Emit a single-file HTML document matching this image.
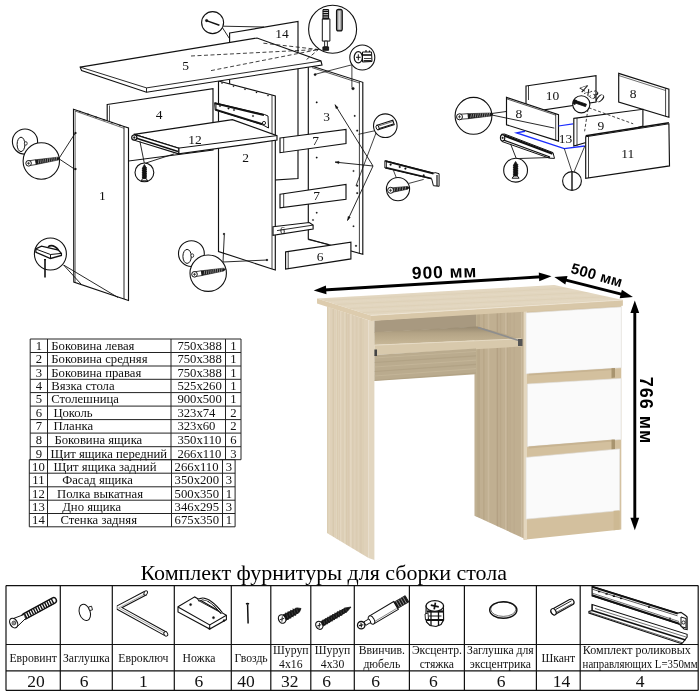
<!DOCTYPE html><html><head><meta charset="utf-8"><style>html,body{margin:0;padding:0;background:#fff;}body{width:700px;height:694px;overflow:hidden;position:relative;}svg{position:absolute;left:0;top:0;will-change:transform;}</style></head><body>
<svg width="700" height="694" viewBox="0 0 700 694">
<polygon points="229.6,33 298,21.5 298,178.5 229.6,183" fill="#fff" stroke="#111" stroke-width="1.15" />
<text x="282" y="38" font-family='"Liberation Serif", serif' font-size="13.5" text-anchor="middle" font-weight="normal" fill="#111" >14</text>
<polygon points="308.3,65 362.8,82.3 362.8,254.3 308.3,239" fill="#fff" stroke="#111" stroke-width="1.15" />
<line x1="359.4" y1="81.5" x2="359.4" y2="253.5" stroke="#111" stroke-width="0.8" />
<line x1="312" y1="67.6" x2="359.4" y2="83" stroke="#111" stroke-width="0.7" />
<text x="326.5" y="121" font-family='"Liberation Serif", serif' font-size="13.5" text-anchor="middle" font-weight="normal" fill="#111" >3</text>
<polygon points="218.5,81 272,95 275.3,96 275.3,270 272,269 218.5,251.5" fill="#fff" stroke="#111" stroke-width="1.15" />
<line x1="272" y1="95" x2="272" y2="269" stroke="#111" stroke-width="0.8" />
<text x="245.5" y="162" font-family='"Liberation Serif", serif' font-size="13.5" text-anchor="middle" font-weight="normal" fill="#111" >2</text>
<polygon points="214.6,102.7 264.5,114.5 268,116 268.5,128 263,125 215.2,110.2" fill="#fff" stroke="#111" stroke-width="1" />
<line x1="215" y1="103.3" x2="264" y2="115.2" stroke="#111" stroke-width="1.8" />
<line x1="215.5" y1="109.5" x2="262.5" y2="124.2" stroke="#111" stroke-width="1.8" />
<line x1="216" y1="104" x2="216" y2="110" stroke="#111" stroke-width="0.9" />
<circle cx="220" cy="106" r="0.8" fill="#111" stroke="#111" stroke-width="0.3"/>
<circle cx="228.5" cy="108.5" r="0.8" fill="#111" stroke="#111" stroke-width="0.3"/>
<circle cx="234" cy="110" r="0.8" fill="#111" stroke="#111" stroke-width="0.3"/>
<circle cx="253" cy="116" r="0.8" fill="#111" stroke="#111" stroke-width="0.3"/>
<circle cx="264" cy="123" r="1.6" fill="#fff" stroke="#111" stroke-width="0.9"/>
<polygon points="107.2,104.5 213,88.75 213,150 128.8,161 107.2,125" fill="#fff" stroke="#111" stroke-width="1.15" />
<line x1="109.5" y1="105.5" x2="109.5" y2="124" stroke="#111" stroke-width="0.7" />
<text x="159" y="119" font-family='"Liberation Serif", serif' font-size="13.5" text-anchor="middle" font-weight="normal" fill="#111" >4</text>
<polygon points="134.1,134.4 232.4,119.6 277,135.6 277,140.1 178.7,153.9 178.7,148.1" fill="#fff" stroke="#111" stroke-width="1.15" />
<line x1="178.7" y1="148.1" x2="277" y2="135.6" stroke="#111" stroke-width="1.0" />
<polygon points="134.1,134.4 178.7,148.1 178.7,153.9 134.1,140.2" fill="#fff" stroke="#111" stroke-width="1.1" />
<line x1="135" y1="137.8" x2="178" y2="151.5" stroke="#111" stroke-width="1.6" />
<circle cx="134.3" cy="137.6" r="2.6" fill="#fff" stroke="#111" stroke-width="1.2"/>
<circle cx="134.3" cy="137.6" r="1.0" fill="#111" stroke="#111" stroke-width="0.3"/>
<text x="195" y="143.5" font-family='"Liberation Serif", serif' font-size="13.5" text-anchor="middle" font-weight="normal" fill="#111" >12</text>
<polygon points="73.5,109.2 124,126.5 128.5,128 128.5,300.5 124,299 73.8,282" fill="#fff" stroke="#111" stroke-width="1.15" />
<line x1="124" y1="126.5" x2="124" y2="299" stroke="#111" stroke-width="0.9" />
<line x1="75" y1="111" x2="124" y2="128.3" stroke="#111" stroke-width="0.6" />
<line x1="75.2" y1="111" x2="75.2" y2="282.3" stroke="#111" stroke-width="0.6" />
<text x="102.3" y="200" font-family='"Liberation Serif", serif' font-size="13.5" text-anchor="middle" font-weight="normal" fill="#111" >1</text>
<polygon points="80.2,67.1 257,38 321,61 322,65 146.5,92.2 81.6,70.6" fill="#fff" stroke="#111" stroke-width="1.15" />
<line x1="146.5" y1="87.9" x2="321" y2="61" stroke="#111" stroke-width="0.9" />
<line x1="146.5" y1="87.9" x2="146.5" y2="92.2" stroke="#111" stroke-width="0.9" />
<line x1="80.2" y1="67.1" x2="146.5" y2="87.9" stroke="#111" stroke-width="0.9" />
<text x="185.6" y="70" font-family='"Liberation Serif", serif' font-size="13.5" text-anchor="middle" font-weight="normal" fill="#111" >5</text>
<line x1="191" y1="56" x2="318.5" y2="49.5" stroke="#111" stroke-width="0.8" stroke-dasharray="4,2.5"/>
<line x1="211" y1="70.6" x2="318.5" y2="49.5" stroke="#111" stroke-width="0.8" stroke-dasharray="4,2.5"/>
<line x1="263.4" y1="43.2" x2="318.5" y2="49.5" stroke="#111" stroke-width="0.8" stroke-dasharray="4,2.5"/>
<line x1="306.6" y1="59.5" x2="318.5" y2="49.5" stroke="#111" stroke-width="0.8" stroke-dasharray="4,2.5"/>
<polygon points="280,138 346,129.4 346,143.6 280,152.7" fill="#fff" stroke="#111" stroke-width="1.15" />
<line x1="283.7" y1="137.5" x2="283.7" y2="152.2" stroke="#111" stroke-width="0.8" />
<text x="315.5" y="145" font-family='"Liberation Serif", serif' font-size="13.5" text-anchor="middle" font-weight="normal" fill="#111" >7</text>
<polygon points="280,194.3 346,184.5 346,199.2 280,207.8" fill="#fff" stroke="#111" stroke-width="1.15" />
<line x1="283.7" y1="193.8" x2="283.7" y2="207.3" stroke="#111" stroke-width="0.8" />
<text x="316.7" y="200" font-family='"Liberation Serif", serif' font-size="13.5" text-anchor="middle" font-weight="normal" fill="#111" >7</text>
<polygon points="273,226.7 309.2,222.5 313.1,225.1 313.1,229.1 273,235.4" fill="#fff" stroke="#111" stroke-width="1.15" />
<line x1="277" y1="230.6" x2="313.1" y2="225.1" stroke="#111" stroke-width="0.9" />
<text x="282.5" y="233.5" font-family='"Liberation Serif", serif' font-size="10" text-anchor="middle" font-weight="normal" fill="#111" >6</text>
<polygon points="285.6,251.9 350.9,242.1 350.9,258.9 285.6,269.1" fill="#fff" stroke="#111" stroke-width="1.15" />
<line x1="288.2" y1="251.5" x2="288.2" y2="268.7" stroke="#111" stroke-width="0.8" />
<text x="320.2" y="260.5" font-family='"Liberation Serif", serif' font-size="13.5" text-anchor="middle" font-weight="normal" fill="#111" >6</text>
<line x1="308.2" y1="239.6" x2="329" y2="244.5" stroke="#111" stroke-width="0.8" />
<line x1="58.8" y1="158.7" x2="75.3" y2="133" stroke="#111" stroke-width="0.9" />
<line x1="58.8" y1="158.7" x2="75.3" y2="169.6" stroke="#111" stroke-width="0.9" />
<circle cx="25" cy="141.6" r="12.6" fill="#fff" stroke="#111" stroke-width="1.1"/>
<ellipse cx="21" cy="144.4" rx="3.9" ry="7.2" fill="none" stroke="#111" stroke-width="1"/>
<ellipse cx="25.8" cy="143.4" rx="1.4" ry="1.8" fill="#fff" stroke="#111" stroke-width="0.8"/>
<circle cx="41.3" cy="161" r="18.2" fill="#fff" stroke="#111" stroke-width="1.1"/>
<polygon points="28.978862811219724,165.6699077978425 36.32886281121972,164.4949077978425 35.571137188780284,159.7550922021575 28.22113718878028,160.9300922021575" fill="#fff" stroke="#111" stroke-width="0.8" /><polygon points="36.32886281121972,164.4949077978425 58.22731768673183,160.0219446787055 59.97492316486875,158.28428099065022 57.77268231326817,157.1780553212945 35.571137188780284,159.7550922021575" fill="#1a1a1a" stroke="#111" stroke-width="0.6" /><line x1="38.42020396785381" y1="163.43143545848974" x2="38.87725761458057" y2="159.95570503683538" stroke="#eee" stroke-width="0.5" /><line x1="40.62520396785381" y1="163.07893545848972" x2="41.08225761458057" y2="159.60320503683536" stroke="#eee" stroke-width="0.5" /><line x1="42.83020396785381" y1="162.72643545848973" x2="43.287257614580575" y2="159.25070503683537" stroke="#eee" stroke-width="0.5" /><line x1="45.03520396785381" y1="162.37393545848974" x2="45.49225761458057" y2="158.89820503683538" stroke="#eee" stroke-width="0.5" /><line x1="47.24020396785381" y1="162.02143545848975" x2="47.69725761458057" y2="158.5457050368354" stroke="#eee" stroke-width="0.5" /><line x1="49.44520396785381" y1="161.66893545848973" x2="49.90225761458057" y2="158.19320503683537" stroke="#eee" stroke-width="0.5" /><line x1="51.650203967853805" y1="161.31643545848974" x2="52.10725761458057" y2="157.84070503683537" stroke="#eee" stroke-width="0.5" /><line x1="53.85520396785381" y1="160.96393545848974" x2="54.312257614580574" y2="157.48820503683538" stroke="#eee" stroke-width="0.5" /><line x1="56.06020396785381" y1="160.61143545848972" x2="56.51725761458057" y2="157.13570503683536" stroke="#eee" stroke-width="0.5" /><circle cx="28.6" cy="163.3" r="2.8" fill="#fff" stroke="#111" stroke-width="1"/><line x1="27.060000000000002" y1="163.3" x2="30.14" y2="163.3" stroke="#111" stroke-width="0.7" /><line x1="28.6" y1="161.76000000000002" x2="28.6" y2="164.84" stroke="#111" stroke-width="0.7" />
<line x1="63.6" y1="265" x2="81" y2="284" stroke="#111" stroke-width="0.9" />
<line x1="63.6" y1="265" x2="118" y2="297.5" stroke="#111" stroke-width="0.9" />
<circle cx="50.4" cy="254" r="16" fill="#fff" stroke="#111" stroke-width="1.1"/>
<polygon points="35.7,248.8 41.5,246.2 58.5,250.2 61.4,253.4 61.4,255.5 50.5,258.5 36,252.3" fill="#fff" stroke="#111" stroke-width="1.3" />
<polyline points="35.7,249 50.5,254.5 61.4,253.4" fill="none" stroke="#111" stroke-width="1.0" />
<line x1="50.5" y1="254.5" x2="50.5" y2="258.5" stroke="#111" stroke-width="1.0" />
<path d="M48,246.8 Q53,243.5 58.5,250" fill="none" stroke="#111" stroke-width="1.6"/>
<line x1="45" y1="260" x2="45" y2="277.5" stroke="#111" stroke-width="1.6" />
<line x1="44" y1="259.6" x2="46" y2="259.6" stroke="#111" stroke-width="1.4" />
<line x1="139.9" y1="141.3" x2="144.4" y2="163.5" stroke="#111" stroke-width="0.9" />
<line x1="144.4" y1="163.5" x2="174.1" y2="153.9" stroke="#111" stroke-width="0.9" />
<circle cx="144.4" cy="172.4" r="9.4" fill="#fff" stroke="#111" stroke-width="1.1"/>
<polygon points="142.70000000000002,178.8 142.70000000000002,167.5 144.4,164.5 146.1,167.5 146.1,178.8" fill="#151515" stroke="#111" stroke-width="0.8" /><line x1="141.85" y1="168.8" x2="146.95000000000002" y2="167.8" stroke="#111" stroke-width="0.9" /><line x1="141.85" y1="170.6" x2="146.95000000000002" y2="169.6" stroke="#111" stroke-width="0.9" /><line x1="141.85" y1="172.4" x2="146.95000000000002" y2="171.4" stroke="#111" stroke-width="0.9" /><line x1="141.85" y1="174.2" x2="146.95000000000002" y2="173.2" stroke="#111" stroke-width="0.9" /><line x1="141.85" y1="176.0" x2="146.95000000000002" y2="175.0" stroke="#111" stroke-width="0.9" /><line x1="141.85" y1="177.8" x2="146.95000000000002" y2="176.8" stroke="#111" stroke-width="0.9" /><polygon points="141.1,180.8 147.70000000000002,180.8 146.1,178.60000000000002 142.70000000000002,178.60000000000002" fill="#fff" stroke="#111" stroke-width="1" />
<line x1="223" y1="262" x2="224.3" y2="235" stroke="#111" stroke-width="0.9" />
<line x1="223" y1="262" x2="267" y2="260" stroke="#111" stroke-width="0.9" />
<circle cx="191.4" cy="253.6" r="12.9" fill="#fff" stroke="#111" stroke-width="1.1"/>
<ellipse cx="187.1" cy="256.4" rx="4.2" ry="7" fill="none" stroke="#111" stroke-width="1"/>
<ellipse cx="192.3" cy="255.6" rx="1.4" ry="1.8" fill="#fff" stroke="#111" stroke-width="0.8"/>
<circle cx="208.2" cy="273.2" r="18.2" fill="#fff" stroke="#111" stroke-width="1.1"/>
<polygon points="194.88395564516918,276.6690880233843 202.13395564516918,275.4940880233843 201.36604435483082,270.7559119766157 194.11604435483082,271.93091197661573" fill="#fff" stroke="#111" stroke-width="0.8" /><polygon points="202.13395564516918,275.4940880233843 223.7303733871015,271.02145281403057 225.47424001948687,269.280036962359 223.2696266128985,268.1785471859695 201.36604435483082,270.7559119766157" fill="#1a1a1a" stroke="#111" stroke-width="0.6" /><line x1="204.19376895161844" y1="274.430861616369" x2="204.64335105812503" y2="270.9541568648105" stroke="#eee" stroke-width="0.5" /><line x1="206.36876895161842" y1="274.078361616369" x2="206.81835105812502" y2="270.60165686481054" stroke="#eee" stroke-width="0.5" /><line x1="208.54376895161843" y1="273.725861616369" x2="208.99335105812503" y2="270.2491568648105" stroke="#eee" stroke-width="0.5" /><line x1="210.71876895161842" y1="273.37336161636904" x2="211.168351058125" y2="269.89665686481055" stroke="#eee" stroke-width="0.5" /><line x1="212.89376895161843" y1="273.020861616369" x2="213.34335105812502" y2="269.54415686481053" stroke="#eee" stroke-width="0.5" /><line x1="215.06876895161844" y1="272.668361616369" x2="215.51835105812503" y2="269.1916568648105" stroke="#eee" stroke-width="0.5" /><line x1="217.24376895161842" y1="272.31586161636903" x2="217.69335105812502" y2="268.83915686481055" stroke="#eee" stroke-width="0.5" /><line x1="219.41876895161843" y1="271.963361616369" x2="219.86835105812503" y2="268.4866568648105" stroke="#eee" stroke-width="0.5" /><line x1="221.59376895161842" y1="271.61086161636905" x2="222.043351058125" y2="268.13415686481056" stroke="#eee" stroke-width="0.5" /><circle cx="194.5" cy="274.3" r="2.8" fill="#fff" stroke="#111" stroke-width="1"/><line x1="192.96" y1="274.3" x2="196.04" y2="274.3" stroke="#111" stroke-width="0.7" /><line x1="194.5" y1="272.76" x2="194.5" y2="275.84000000000003" stroke="#111" stroke-width="0.7" />
<line x1="223.3" y1="26.2" x2="264" y2="27" stroke="#111" stroke-width="0.9" />
<line x1="222.5" y1="27.8" x2="229.4" y2="38.5" stroke="#111" stroke-width="0.9" />
<circle cx="212.6" cy="22.6" r="11" fill="#fff" stroke="#111" stroke-width="1.1"/>
<line x1="206.5" y1="20.6" x2="219.4" y2="25.3" stroke="#111" stroke-width="1.5" />
<circle cx="206.6" cy="20.6" r="1.3" fill="#111" stroke="#111" stroke-width="0.3"/>
<circle cx="332.6" cy="29.2" r="24" fill="#fff" stroke="#111" stroke-width="1.1"/>
<polygon points="322.3,18.9 329.9,18.9 329.9,41.1 322.3,41.1" fill="#fff" stroke="#111" stroke-width="1" />
<polygon points="323,9.5 328.6,9.5 328.6,18.9 323,18.9" fill="#fff" stroke="#111" stroke-width="1" />
<line x1="322.8" y1="11.3" x2="328.8" y2="11.3" stroke="#111" stroke-width="1.5" />
<line x1="322.8" y1="13.6" x2="328.8" y2="13.6" stroke="#111" stroke-width="1.5" />
<line x1="322.8" y1="15.9" x2="328.8" y2="15.9" stroke="#111" stroke-width="1.5" />
<line x1="322.8" y1="18.2" x2="328.8" y2="18.2" stroke="#111" stroke-width="1.5" />
<polygon points="324.6,41.1 327.4,41.1 327.4,46.9 324.6,46.9" fill="#fff" stroke="#111" stroke-width="0.9" />
<polygon points="322.9,46.9 328.6,46.9 328.6,50.3 322.9,50.3" fill="#222" stroke="#111" stroke-width="0.9" />
<rect x="336.5" y="9.4" width="5.8" height="21.5" rx="2" fill="#8a8a8a" stroke="#111" stroke-width="1.1"/>
<rect x="338.3" y="11" width="2.2" height="18.5" fill="#d8d8d8"/>
<line x1="351.9" y1="64.8" x2="314" y2="74.6" stroke="#111" stroke-width="0.8" />
<line x1="351.9" y1="64.8" x2="351.9" y2="87.5" stroke="#111" stroke-width="0.8" />
<circle cx="362.3" cy="57.5" r="12.5" fill="#fff" stroke="#111" stroke-width="1.1"/>
<ellipse cx="358.3" cy="57.3" rx="4.1" ry="5.6" fill="#fff" stroke="#111" stroke-width="1.2"/>
<line x1="356" y1="57.3" x2="360.6" y2="57.3" stroke="#111" stroke-width="1" />
<line x1="358.3" y1="54.3" x2="358.3" y2="60.3" stroke="#111" stroke-width="1" />
<polygon points="362.5,52 371.5,52 372,61.5 362.5,62" fill="#fff" stroke="#111" stroke-width="1" />
<line x1="363" y1="55" x2="371.5" y2="55" stroke="#111" stroke-width="1.6" />
<line x1="364" y1="58.5" x2="371.5" y2="58.5" stroke="#111" stroke-width="0.8" />
<line x1="366" y1="52" x2="366" y2="50" stroke="#111" stroke-width="1.2" />
<line x1="369.5" y1="52" x2="369.5" y2="50.5" stroke="#111" stroke-width="1.2" />
<line x1="363.5" y1="60.8" x2="371.5" y2="60.8" stroke="#111" stroke-width="1.4" />
<line x1="375.5" y1="130.6" x2="358.4" y2="134.3" stroke="#111" stroke-width="0.8" />
<line x1="376" y1="133" x2="356" y2="185.7" stroke="#111" stroke-width="0.8" />
<circle cx="385.3" cy="125.7" r="11.8" fill="#fff" stroke="#111" stroke-width="1.1"/>
<polygon points="378.18603248421266,129.69530394948058 394.18603248421266,124.69530394948058 392.81396751578734,120.30469605051942 376.81396751578734,125.30469605051942" fill="#fff" stroke="#111" stroke-width="1.1" />
<line x1="378" y1="126.2" x2="393" y2="121.5" stroke="#111" stroke-width="0.6" />
<line x1="378.5" y1="128.8" x2="393.5" y2="124" stroke="#111" stroke-width="1.2" />
<ellipse cx="377.5" cy="127.5" rx="1.4" ry="2.4" transform="rotate(-17 377.5 127.5)" fill="#fff" stroke="#111" stroke-width="0.9"/>
<line x1="373" y1="166" x2="335" y2="104.7" stroke="#111" stroke-width="0.9" />
<polygon points="335,104.7 338.21244023245515,107.41481633870569 336.00259637105114,108.78470323484524" fill="#111" stroke="#111" stroke-width="0.3" />
<line x1="373" y1="166" x2="335" y2="162.1" stroke="#111" stroke-width="0.9" />
<polygon points="335,162.1 339.1118223716815,161.2151741506154 338.84637461686617,163.80158817189343" fill="#111" stroke="#111" stroke-width="0.3" />
<line x1="373" y1="166" x2="347.5" y2="220.5" stroke="#111" stroke-width="0.9" />
<polygon points="347.5,220.5 348.0176947670596,216.326034004911 350.372665826204,217.4279011977217" fill="#111" stroke="#111" stroke-width="0.3" />
<polygon points="384.9,160.6 434,173.1 435.1,172.6 439.1,173.7 439.1,186.3 433.4,185.7 431.7,178.9 384.9,168" fill="#fff" stroke="#111" stroke-width="1" />
<line x1="385.5" y1="161.2" x2="433.5" y2="173.6" stroke="#111" stroke-width="1.8" />
<line x1="385.5" y1="167.5" x2="431.5" y2="178.5" stroke="#111" stroke-width="1.4" />
<line x1="386.5" y1="161" x2="386.5" y2="168" stroke="#111" stroke-width="0.8" />
<circle cx="390.6" cy="164.6" r="0.9" fill="#111" stroke="#111" stroke-width="0.3"/>
<circle cx="399.7" cy="166.9" r="0.9" fill="#111" stroke="#111" stroke-width="0.3"/>
<circle cx="405.4" cy="168.6" r="0.9" fill="#111" stroke="#111" stroke-width="0.3"/>
<circle cx="423.7" cy="175.4" r="0.9" fill="#111" stroke="#111" stroke-width="0.3"/>
<line x1="437" y1="175" x2="437" y2="186" stroke="#111" stroke-width="1.2" />
<line x1="393.4" y1="170.3" x2="396.3" y2="177.7" stroke="#111" stroke-width="0.8" />
<line x1="423.7" y1="179.4" x2="408.9" y2="183.4" stroke="#111" stroke-width="0.8" />
<circle cx="398" cy="189.1" r="11.6" fill="#fff" stroke="#111" stroke-width="1.1"/>
<polygon points="390.9365739934088,192.5752401954433 391.7815739934088,192.4502401954433 391.1084260065913,187.8997598045567 390.26342600659126,188.0247598045567" fill="#fff" stroke="#111" stroke-width="0.8" /><polygon points="391.7815739934088,192.4502401954433 407.7019443960453,189.16514411726598 409.47846973516806,187.50732696225325 407.2980556039547,186.43485588273404 391.1084260065913,187.8997598045567" fill="#1a1a1a" stroke="#111" stroke-width="0.6" /><line x1="394.3564351287195" y1="191.371834803477" x2="394.87446640553134" y2="188.04016201098298" stroke="#eee" stroke-width="0.5" /><line x1="397.0322684620528" y1="190.97600147014367" x2="397.5502997388646" y2="187.64432867764967" stroke="#eee" stroke-width="0.5" /><line x1="399.70810179538614" y1="190.58016813681033" x2="400.22613307219797" y2="187.24849534431632" stroke="#eee" stroke-width="0.5" /><line x1="402.3839351287195" y1="190.184334803477" x2="402.9019664055313" y2="186.85266201098298" stroke="#eee" stroke-width="0.5" /><line x1="405.0597684620528" y1="189.78850147014367" x2="405.5777997388646" y2="186.45682867764967" stroke="#eee" stroke-width="0.5" /><circle cx="390.6" cy="190.3" r="3.0" fill="#fff" stroke="#111" stroke-width="1"/><line x1="388.95000000000005" y1="190.3" x2="392.25" y2="190.3" stroke="#111" stroke-width="0.7" /><line x1="390.6" y1="188.65" x2="390.6" y2="191.95000000000002" stroke="#111" stroke-width="0.7" />
<circle cx="316.7" cy="102.4" r="0.8" fill="#111" stroke="#111" stroke-width="0.2"/>
<circle cx="354.7" cy="115.9" r="0.8" fill="#111" stroke="#111" stroke-width="0.2"/>
<circle cx="357.2" cy="130.6" r="0.9" fill="#111" stroke="#111" stroke-width="0.2"/>
<circle cx="316.7" cy="157.6" r="0.8" fill="#111" stroke="#111" stroke-width="0.2"/>
<circle cx="353.5" cy="171" r="0.8" fill="#111" stroke="#111" stroke-width="0.2"/>
<circle cx="357.2" cy="185.7" r="0.9" fill="#111" stroke="#111" stroke-width="0.2"/>
<circle cx="357.2" cy="193.1" r="0.9" fill="#111" stroke="#111" stroke-width="0.2"/>
<circle cx="316.7" cy="212.7" r="0.8" fill="#111" stroke="#111" stroke-width="0.2"/>
<circle cx="313" cy="220" r="0.8" fill="#111" stroke="#111" stroke-width="0.2"/>
<circle cx="353.5" cy="226.2" r="0.8" fill="#111" stroke="#111" stroke-width="0.2"/>
<circle cx="356" cy="245.8" r="0.9" fill="#111" stroke="#111" stroke-width="0.2"/>
<circle cx="315.1" cy="74.6" r="1.2" fill="#111" stroke="#111" stroke-width="0.2"/>
<circle cx="353" cy="88.6" r="1.4" fill="#111" stroke="#111" stroke-width="0.2"/>
<circle cx="75.5" cy="133" r="1" fill="#111" stroke="#111" stroke-width="0.2"/>
<circle cx="75.5" cy="169" r="1" fill="#111" stroke="#111" stroke-width="0.2"/>
<circle cx="224" cy="234" r="1" fill="#111" stroke="#111" stroke-width="0.2"/>
<circle cx="267" cy="260" r="1" fill="#111" stroke="#111" stroke-width="0.2"/>
<circle cx="507" cy="111.4" r="1.1" fill="#111" stroke="#111" stroke-width="0.2"/>
<circle cx="554.3" cy="128.1" r="1" fill="#111" stroke="#111" stroke-width="0.2"/>
<circle cx="620" cy="88" r="1" fill="#111" stroke="#111" stroke-width="0.2"/>
<circle cx="667" cy="105" r="1" fill="#111" stroke="#111" stroke-width="0.2"/>
<circle cx="80.0" cy="111.5" r="0.7" fill="#111" stroke="#111" stroke-width="0.2"/>
<circle cx="88.0" cy="114.3" r="0.7" fill="#111" stroke="#111" stroke-width="0.2"/>
<circle cx="96.0" cy="117.1" r="0.7" fill="#111" stroke="#111" stroke-width="0.2"/>
<circle cx="104.0" cy="119.9" r="0.7" fill="#111" stroke="#111" stroke-width="0.2"/>
<circle cx="112.0" cy="122.7" r="0.7" fill="#111" stroke="#111" stroke-width="0.2"/>
<circle cx="120.0" cy="125.5" r="0.7" fill="#111" stroke="#111" stroke-width="0.2"/>
<circle cx="222.0" cy="83.0" r="0.7" fill="#111" stroke="#111" stroke-width="0.2"/>
<circle cx="233.5" cy="86.125" r="0.7" fill="#111" stroke="#111" stroke-width="0.2"/>
<circle cx="245.0" cy="89.25" r="0.7" fill="#111" stroke="#111" stroke-width="0.2"/>
<circle cx="256.5" cy="92.375" r="0.7" fill="#111" stroke="#111" stroke-width="0.2"/>
<circle cx="268.0" cy="95.5" r="0.7" fill="#111" stroke="#111" stroke-width="0.2"/>
<polygon points="526,86 596,75.6 596,102 526,112.5" fill="#fff" stroke="#111" stroke-width="1.15" />
<line x1="528.5" y1="86" x2="528.5" y2="100" stroke="#111" stroke-width="0.8" />
<text x="552.4" y="100" font-family='"Liberation Serif", serif' font-size="13.5" text-anchor="middle" font-weight="normal" fill="#111" >10</text>
<polygon points="618.7,73.4 668.9,89.2 668.9,117.3 618.7,102.1" fill="#fff" stroke="#111" stroke-width="1.15" />
<line x1="665.6" y1="88.2" x2="665.6" y2="116.3" stroke="#111" stroke-width="0.8" />
<line x1="618.7" y1="75.5" x2="665.6" y2="90.5" stroke="#111" stroke-width="0.6" />
<text x="633.2" y="98" font-family='"Liberation Serif", serif' font-size="13.5" text-anchor="middle" font-weight="normal" fill="#111" >8</text>
<polygon points="573.8,118.4 642.9,109.3 642.9,126 573.8,146" fill="#fff" stroke="#111" stroke-width="1.15" />
<line x1="577" y1="118" x2="577" y2="146" stroke="#111" stroke-width="0.8" />
<text x="600.8" y="130" font-family='"Liberation Serif", serif' font-size="13.5" text-anchor="middle" font-weight="normal" fill="#111" >9</text>
<polygon points="506.5,97.4 558.5,114.6 558.5,141.1 506.5,124.8" fill="#fff" stroke="#111" stroke-width="1.15" />
<line x1="555.7" y1="113.7" x2="555.7" y2="140.3" stroke="#111" stroke-width="0.8" />
<line x1="506.8" y1="98.9" x2="555.7" y2="115.1" stroke="#111" stroke-width="0.7" />
<text x="518.9" y="118" font-family='"Liberation Serif", serif' font-size="13.5" text-anchor="middle" font-weight="normal" fill="#111" >8</text>
<polygon points="585.7,136.7 668.9,123.8 669.5,165.9 585.7,178.4" fill="#fff" stroke="#111" stroke-width="1.15" />
<line x1="588.5" y1="136.3" x2="588.5" y2="178" stroke="#111" stroke-width="0.8" />
<line x1="585.7" y1="135.7" x2="668.9" y2="122.8" stroke="#111" stroke-width="1.5" />
<text x="627.8" y="158" font-family='"Liberation Serif", serif' font-size="13.5" text-anchor="middle" font-weight="normal" fill="#111" >11</text>
<polyline points="525,131.3 516.7,132.9 564.3,148.6 584.8,146" fill="none" stroke="#1a2cff" stroke-width="1.4" />
<line x1="558.4" y1="126" x2="573" y2="123.8" stroke="#1a2cff" stroke-width="1.2" />
<text x="565.4" y="143" font-family='"Liberation Serif", serif' font-size="13.5" text-anchor="middle" font-weight="normal" fill="#111" >13</text>
<line x1="584" y1="106" x2="633.2" y2="123.8" stroke="#111" stroke-width="0.8" stroke-dasharray="3,2"/>
<line x1="588" y1="109" x2="584.6" y2="131.3" stroke="#111" stroke-width="0.8" stroke-dasharray="3,2"/>
<circle cx="581.3" cy="104.3" r="8.6" fill="#fff" stroke="#111" stroke-width="1.1"/>
<polygon points="575.0783783783784,103.02972972972972 585.5783783783784,106.62972972972973 586.4216216216216,104.17027027027028 575.9216216216216,100.57027027027027" fill="#111" stroke="#111" stroke-width="0.8" />
<polygon points="574,99.5 576.5,100.2 575,104.8 572.8,103.6" fill="#111" stroke="#111" stroke-width="0.6" />
<text x="591.5" y="97.5" font-family='"Liberation Serif", serif' font-size="13.5" text-anchor="middle" font-weight="normal" fill="#111" transform="rotate(32 591.5 93.5)" font-style="italic">4x30</text>
<line x1="491.8" y1="113.5" x2="507" y2="111.4" stroke="#111" stroke-width="0.9" />
<line x1="491.8" y1="115" x2="554.3" y2="128.1" stroke="#111" stroke-width="0.9" />
<circle cx="473.5" cy="115.8" r="18.4" fill="#fff" stroke="#111" stroke-width="1.1"/>
<polygon points="459.68205503103303,119.29336238153934 468.502055031033,118.64936238153933 468.13794496896696,113.66263761846065 459.31794496896697,114.30663761846066" fill="#fff" stroke="#111" stroke-width="0.8" /><polygon points="468.502055031033,118.64936238153933 491.1092330186198,115.99601742892361 492.9946899052315,114.35435597517358 490.8907669813802,113.00398257107639 468.13794496896696,113.66263761846065" fill="#1a1a1a" stroke="#111" stroke-width="0.6" /><line x1="470.7154385217231" y1="117.73575366707753" x2="471.45790643089254" y2="114.17222432050924" stroke="#eee" stroke-width="0.5" /><line x1="472.98343852172314" y1="117.57015366707753" x2="473.72590643089256" y2="114.00662432050925" stroke="#eee" stroke-width="0.5" /><line x1="475.2514385217232" y1="117.40455366707754" x2="475.9939064308926" y2="113.84102432050925" stroke="#eee" stroke-width="0.5" /><line x1="477.51943852172315" y1="117.23895366707754" x2="478.26190643089257" y2="113.67542432050925" stroke="#eee" stroke-width="0.5" /><line x1="479.7874385217231" y1="117.07335366707754" x2="480.52990643089254" y2="113.50982432050925" stroke="#eee" stroke-width="0.5" /><line x1="482.05543852172315" y1="116.90775366707753" x2="482.79790643089257" y2="113.34422432050924" stroke="#eee" stroke-width="0.5" /><line x1="484.3234385217231" y1="116.74215366707753" x2="485.06590643089254" y2="113.17862432050924" stroke="#eee" stroke-width="0.5" /><line x1="486.59143852172315" y1="116.57655366707753" x2="487.33390643089257" y2="113.01302432050925" stroke="#eee" stroke-width="0.5" /><line x1="488.8594385217231" y1="116.41095366707754" x2="489.60190643089254" y2="112.84742432050925" stroke="#eee" stroke-width="0.5" /><circle cx="459.5" cy="116.8" r="3.0" fill="#fff" stroke="#111" stroke-width="1"/><line x1="457.85" y1="116.8" x2="461.15" y2="116.8" stroke="#111" stroke-width="0.7" /><line x1="459.5" y1="115.14999999999999" x2="459.5" y2="118.45" stroke="#111" stroke-width="0.7" />
<polygon points="501.5,134.2 504.5,134 553,152.6 554.5,158.4 549.5,158.2 502,141.5" fill="#fff" stroke="#111" stroke-width="1" />
<line x1="503.5" y1="135.3" x2="552.5" y2="153.8" stroke="#111" stroke-width="2.2" />
<line x1="503" y1="139.8" x2="550" y2="157" stroke="#111" stroke-width="1.3" />
<ellipse cx="502.6" cy="137.8" rx="2.2" ry="3.2" fill="#fff" stroke="#111" stroke-width="1.1"/>
<circle cx="502.6" cy="137.8" r="0.9" fill="#111" stroke="#111" stroke-width="0.3"/>
<line x1="516.3" y1="158.6" x2="510.5" y2="143.8" stroke="#111" stroke-width="0.9" />
<line x1="516.3" y1="158.6" x2="550" y2="157.5" stroke="#111" stroke-width="0.9" />
<circle cx="515.6" cy="170.2" r="11.9" fill="#fff" stroke="#111" stroke-width="1.1"/>
<polygon points="513.8000000000001,176.2 513.8000000000001,164.5 515.6,161.5 517.4,164.5 517.4,176.2" fill="#151515" stroke="#111" stroke-width="0.8" /><line x1="512.9" y1="165.8" x2="518.3000000000001" y2="164.8" stroke="#111" stroke-width="0.9" /><line x1="512.9" y1="167.6" x2="518.3000000000001" y2="166.6" stroke="#111" stroke-width="0.9" /><line x1="512.9" y1="169.4" x2="518.3000000000001" y2="168.4" stroke="#111" stroke-width="0.9" /><line x1="512.9" y1="171.2" x2="518.3000000000001" y2="170.2" stroke="#111" stroke-width="0.9" /><line x1="512.9" y1="173.0" x2="518.3000000000001" y2="172.0" stroke="#111" stroke-width="0.9" /><line x1="512.9" y1="174.8" x2="518.3000000000001" y2="173.8" stroke="#111" stroke-width="0.9" /><polygon points="512.1,178.2 519.1,178.2 517.4,176.0 513.8000000000001,176.0" fill="#fff" stroke="#111" stroke-width="1" />
<line x1="564.3" y1="148.6" x2="572" y2="172" stroke="#111" stroke-width="0.8" />
<line x1="584.8" y1="146" x2="574" y2="172" stroke="#111" stroke-width="0.8" />
<circle cx="572" cy="181" r="9.4" fill="#fff" stroke="#111" stroke-width="1.1"/>
<line x1="572" y1="172" x2="572" y2="190" stroke="#111" stroke-width="1.4" />
<clipPath id="legc"><polygon points="327,306.4 368.5,320.3 368.5,558 327,532.9"/></clipPath>
<polygon points="327,306.4 368.5,320.3 368.5,558 327,532.9" fill="#dfd1b9" stroke="none" stroke-width="1" />
<g clip-path="url(#legc)"><line x1="336.9" y1="300" x2="336.9" y2="560" stroke="#c9b796" stroke-width="1.3" opacity="0.18"/><line x1="352.1" y1="300" x2="352.1" y2="560" stroke="#c9b796" stroke-width="1.4" opacity="0.11"/><line x1="327.5" y1="300" x2="327.5" y2="560" stroke="#c9b796" stroke-width="1.6" opacity="0.16"/><line x1="336.7" y1="300" x2="336.7" y2="560" stroke="#c9b796" stroke-width="1.8" opacity="0.20"/><line x1="361.7" y1="300" x2="361.7" y2="560" stroke="#c9b796" stroke-width="1.2" opacity="0.24"/><line x1="333.3" y1="300" x2="333.3" y2="560" stroke="#c9b796" stroke-width="1.4" opacity="0.29"/><line x1="348.7" y1="300" x2="348.7" y2="560" stroke="#c9b796" stroke-width="1.5" opacity="0.25"/><line x1="329.7" y1="300" x2="329.7" y2="560" stroke="#c9b796" stroke-width="1.5" opacity="0.23"/><line x1="339.5" y1="300" x2="339.5" y2="560" stroke="#c9b796" stroke-width="0.6" opacity="0.29"/><line x1="346.6" y1="300" x2="346.6" y2="560" stroke="#c9b796" stroke-width="1.5" opacity="0.29"/><line x1="356.6" y1="300" x2="356.6" y2="560" stroke="#c9b796" stroke-width="1.7" opacity="0.19"/><line x1="360.2" y1="300" x2="360.2" y2="560" stroke="#c9b796" stroke-width="1.1" opacity="0.31"/><line x1="363.5" y1="300" x2="363.5" y2="560" stroke="#c9b796" stroke-width="0.7" opacity="0.13"/><line x1="336.0" y1="300" x2="336.0" y2="560" stroke="#c9b796" stroke-width="1.8" opacity="0.20"/><line x1="353.0" y1="300" x2="353.0" y2="560" stroke="#c9b796" stroke-width="1.0" opacity="0.21"/><line x1="343.0" y1="300" x2="343.0" y2="560" stroke="#c9b796" stroke-width="1.0" opacity="0.23"/><line x1="340.4" y1="300" x2="340.4" y2="560" stroke="#efe6d4" stroke-width="0.8" opacity="0.36"/><line x1="330.0" y1="300" x2="330.0" y2="560" stroke="#efe6d4" stroke-width="1.2" opacity="0.25"/><line x1="329.4" y1="300" x2="329.4" y2="560" stroke="#efe6d4" stroke-width="1.2" opacity="0.11"/><line x1="345.0" y1="300" x2="345.0" y2="560" stroke="#efe6d4" stroke-width="0.7" opacity="0.14"/><line x1="344.6" y1="300" x2="344.6" y2="560" stroke="#efe6d4" stroke-width="1.6" opacity="0.15"/><line x1="336.3" y1="300" x2="336.3" y2="560" stroke="#efe6d4" stroke-width="1.4" opacity="0.48"/><line x1="350.9" y1="300" x2="350.9" y2="560" stroke="#efe6d4" stroke-width="1.1" opacity="0.49"/><line x1="328.9" y1="300" x2="328.9" y2="560" stroke="#efe6d4" stroke-width="1.6" opacity="0.22"/></g>
<polygon points="368.5,320.3 374.4,321 374.4,560 368.5,558" fill="#e2d6c0" stroke="none" stroke-width="1" />
<clipPath id="midc"><polygon points="474.5,312 524.6,308 524.6,538.8 474.5,515.7"/></clipPath>
<polygon points="474.5,312 524.6,308 524.6,538.8 474.5,515.7" fill="#c0af91" stroke="none" stroke-width="1" />
<g clip-path="url(#midc)"><line x1="497.2" y1="300" x2="497.2" y2="540" stroke="#a39274" stroke-width="1.3" opacity="0.33"/><line x1="497.8" y1="300" x2="497.8" y2="540" stroke="#a39274" stroke-width="1.2" opacity="0.25"/><line x1="483.8" y1="300" x2="483.8" y2="540" stroke="#a39274" stroke-width="1.2" opacity="0.26"/><line x1="514.2" y1="300" x2="514.2" y2="540" stroke="#a39274" stroke-width="0.7" opacity="0.18"/><line x1="479.0" y1="300" x2="479.0" y2="540" stroke="#a39274" stroke-width="1.6" opacity="0.27"/><line x1="476.6" y1="300" x2="476.6" y2="540" stroke="#a39274" stroke-width="1.8" opacity="0.34"/><line x1="507.3" y1="300" x2="507.3" y2="540" stroke="#a39274" stroke-width="1.3" opacity="0.14"/><line x1="475.3" y1="300" x2="475.3" y2="540" stroke="#a39274" stroke-width="1.2" opacity="0.11"/><line x1="484.0" y1="300" x2="484.0" y2="540" stroke="#a39274" stroke-width="0.9" opacity="0.11"/><line x1="497.7" y1="300" x2="497.7" y2="540" stroke="#a39274" stroke-width="1.1" opacity="0.31"/><line x1="500.5" y1="300" x2="500.5" y2="540" stroke="#a39274" stroke-width="1.4" opacity="0.22"/><line x1="507.7" y1="300" x2="507.7" y2="540" stroke="#a39274" stroke-width="1.1" opacity="0.17"/><line x1="524.5" y1="300" x2="524.5" y2="540" stroke="#a39274" stroke-width="1.8" opacity="0.31"/><line x1="510.0" y1="300" x2="510.0" y2="540" stroke="#a39274" stroke-width="1.0" opacity="0.16"/><line x1="505.7" y1="300" x2="505.7" y2="540" stroke="#d8cab0" stroke-width="1.5" opacity="0.38"/><line x1="521.7" y1="300" x2="521.7" y2="540" stroke="#d8cab0" stroke-width="1.5" opacity="0.42"/><line x1="476.0" y1="300" x2="476.0" y2="540" stroke="#d8cab0" stroke-width="1.2" opacity="0.43"/><line x1="507.0" y1="300" x2="507.0" y2="540" stroke="#d8cab0" stroke-width="1.7" opacity="0.14"/><line x1="498.0" y1="300" x2="498.0" y2="540" stroke="#d8cab0" stroke-width="0.9" opacity="0.29"/><line x1="503.3" y1="300" x2="503.3" y2="540" stroke="#d8cab0" stroke-width="0.6" opacity="0.18"/><line x1="488.5" y1="300" x2="488.5" y2="540" stroke="#d8cab0" stroke-width="1.7" opacity="0.37"/></g>
<polygon points="374.4,320.5 476,313.5 476,327 374.4,332.5" fill="#a89980" stroke="none" stroke-width="1" />
<linearGradient id="shg" x1="0" y1="0" x2="0" y2="1"><stop offset="0" stop-color="#968870"/><stop offset="0.35" stop-color="#b3a385"/><stop offset="1" stop-color="#c8b898"/></linearGradient>
<polygon points="374.4,332 477,326.5 521,338.6 374.4,345" fill="url(#shg)" stroke="none" stroke-width="1" />
<polygon points="374.4,345 521,338.6 521,346.6 374.4,355" fill="#d8c9ac" stroke="none" stroke-width="1" />
<line x1="374.4" y1="345.2" x2="521" y2="338.8" stroke="#e6dbc6" stroke-width="0.9" />
<polygon points="374.4,355 476,348.5 476,374.3 374.4,381" fill="#baab8e" stroke="none" stroke-width="1" />
<clipPath id="brc"><polygon points="374.4,355 476,348.5 476,374.3 374.4,381"/></clipPath>
<g clip-path="url(#brc)" opacity="0.5"><line x1="374.4" y1="358.0" x2="476" y2="351.5" stroke="#cbbda0" stroke-width="1.2" /><line x1="374.4" y1="362.5" x2="476" y2="355.8" stroke="#a99a7d" stroke-width="1.2" /><line x1="374.4" y1="367.0" x2="476" y2="360.1" stroke="#cbbda0" stroke-width="1.2" /><line x1="374.4" y1="371.5" x2="476" y2="364.4" stroke="#a99a7d" stroke-width="1.2" /><line x1="374.4" y1="376.0" x2="476" y2="368.7" stroke="#cbbda0" stroke-width="1.2" /><line x1="374.4" y1="380.5" x2="476" y2="373.0" stroke="#a99a7d" stroke-width="1.2" /></g>
<line x1="478" y1="327.5" x2="522" y2="341.5" stroke="#8e8e8e" stroke-width="1.6" />
<polygon points="518,339 522.5,339 522.5,346 518,346" fill="#555" stroke="none" stroke-width="1" />
<polygon points="374.4,349.5 377,349.5 377,356 374.4,356" fill="#444" stroke="none" stroke-width="1" />
<polygon points="523.6,308 621.3,302 621.3,529.4 523.6,539.7" fill="#d3c09e" stroke="none" stroke-width="1" />
<polygon points="523.6,308 527,308 527,539.5 523.6,539.7" fill="#e3d6be" stroke="none" stroke-width="1" />
<polygon points="526.1,312.9 621.3,306.9 621.3,367.7 526.1,373.7" fill="#fafafa" stroke="#e2e2e2" stroke-width="0.6" />
<polygon points="527.4,384 621,378.5 621,439.4 527.4,446.6" fill="#fafafa" stroke="#e2e2e2" stroke-width="0.6" />
<polygon points="526.1,457.4 619.6,448.9 619.6,510.6 526.1,519.1" fill="#fafafa" stroke="#e2e2e2" stroke-width="0.6" />
<polygon points="528.7,373.7 613.6,368.2 613.6,370 528.7,375.5" fill="#c7b391" stroke="none" stroke-width="1" />
<polygon points="611.5,368.3 615,368.1 615,377.6 611.5,377.9" fill="#a8946f" stroke="none" stroke-width="1" />
<polygon points="528.7,446.6 613.6,439.6 613.6,441.6 528.7,448.6" fill="#c7b391" stroke="none" stroke-width="1" />
<polygon points="611.5,439.7 615,439.4 615,449 611.5,449.2" fill="#a8946f" stroke="none" stroke-width="1" />
<polygon points="613.6,510.8 619.6,510.6 619.6,529.4 613.6,530.2" fill="#cdb993" stroke="none" stroke-width="1" />
<polygon points="317,298.5 554.3,285 622.9,300 371,315.4" fill="#e2d6bf" stroke="none" stroke-width="1" />
<clipPath id="topc"><polygon points="317,298.5 554.3,285 622.9,300 371,315.4"/></clipPath>
<g clip-path="url(#topc)" opacity="0.2"><line x1="317" y1="298.5" x2="622" y2="283.0" stroke="#efe6d6" stroke-width="0.8" /><line x1="317" y1="300.8" x2="622" y2="285.6" stroke="#cdbb98" stroke-width="0.8" /><line x1="317" y1="303.1" x2="622" y2="288.2" stroke="#efe6d6" stroke-width="0.8" /><line x1="317" y1="305.4" x2="622" y2="290.8" stroke="#cdbb98" stroke-width="0.8" /><line x1="317" y1="307.7" x2="622" y2="293.4" stroke="#efe6d6" stroke-width="0.8" /><line x1="317" y1="310.0" x2="622" y2="296.0" stroke="#cdbb98" stroke-width="0.8" /><line x1="317" y1="312.3" x2="622" y2="298.6" stroke="#efe6d6" stroke-width="0.8" /><line x1="317" y1="314.6" x2="622" y2="301.2" stroke="#cdbb98" stroke-width="0.8" /><line x1="317" y1="316.9" x2="622" y2="303.8" stroke="#efe6d6" stroke-width="0.8" /><line x1="317" y1="319.2" x2="622" y2="306.4" stroke="#cdbb98" stroke-width="0.8" /><line x1="317" y1="321.5" x2="622" y2="309.0" stroke="#efe6d6" stroke-width="0.8" /><line x1="317" y1="323.8" x2="622" y2="311.6" stroke="#cdbb98" stroke-width="0.8" /></g>
<polygon points="371,315.4 622.9,300 622.9,305.7 371,321" fill="#d8c7a8" stroke="none" stroke-width="1" />
<polygon points="317,298.5 371,315.4 371,321 317,303.5" fill="#ddccae" stroke="none" stroke-width="1" />
<line x1="371" y1="315.4" x2="622.9" y2="300" stroke="#efe6d5" stroke-width="0.8" />
<line x1="323.6817156764076" y1="289.9955563257348" x2="541.5182843235924" y2="276.8044436742652" stroke="#000" stroke-width="2.9" /><polygon points="313.7,290.6 326.4430998121861,294.2364003047878 325.9111893788328,285.4524905095492" fill="#000" stroke="none" stroke-width="1" /><polygon points="551.5,276.2 539.2888106211673,281.3475094904508 538.7569001878138,272.5635996952122" fill="#000" stroke="none" stroke-width="1" />
<line x1="563.9911860665572" y1="279.565950653068" x2="623.2088139334427" y2="294.63404934693204" stroke="#000" stroke-width="2.9" /><polygon points="554.3,277.1 565.3289642958466,284.4465601856202 567.4990008705465,275.91831644704985" fill="#000" stroke="none" stroke-width="1" /><polygon points="632.9,297.1 619.7009991294534,298.2816835529502 621.8710357041533,289.7534398143798" fill="#000" stroke="none" stroke-width="1" />
<line x1="634.8" y1="310.6" x2="634.8" y2="520.3" stroke="#000" stroke-width="2.9" /><polygon points="634.8,300.6 630.4,313.1 639.1999999999999,313.1" fill="#000" stroke="none" stroke-width="1" /><polygon points="634.8,530.3 630.4,517.8 639.1999999999999,517.8" fill="#000" stroke="none" stroke-width="1" />
<text x="444.5" y="278" font-family='"Liberation Sans", sans-serif' font-size="17.5" text-anchor="middle" font-weight="bold" fill="#000" transform="rotate(-1.8 444.5 272)" letter-spacing="0.9">900 мм</text>
<text x="597" y="280.4" font-family='"Liberation Sans", sans-serif' font-size="15" text-anchor="middle" font-weight="bold" fill="#000" transform="rotate(16 597 275)" letter-spacing="0.3">500 мм</text>
<text x="640.3" y="410.6" font-family='"Liberation Sans", sans-serif' font-size="18" text-anchor="middle" font-weight="bold" fill="#000" transform="rotate(90 640.3 410.6)" letter-spacing="1.0">766 мм</text>
<line x1="30.2" y1="339" x2="241" y2="339" stroke="#222" stroke-width="1" />
<line x1="30.2" y1="352.5" x2="241" y2="352.5" stroke="#222" stroke-width="1" />
<line x1="30.2" y1="366" x2="241" y2="366" stroke="#222" stroke-width="1" />
<line x1="30.2" y1="379.3" x2="241" y2="379.3" stroke="#222" stroke-width="1" />
<line x1="30.2" y1="392.6" x2="241" y2="392.6" stroke="#222" stroke-width="1" />
<line x1="30.2" y1="406.1" x2="241" y2="406.1" stroke="#222" stroke-width="1" />
<line x1="30.2" y1="419.6" x2="241" y2="419.6" stroke="#222" stroke-width="1" />
<line x1="30.2" y1="433.1" x2="241" y2="433.1" stroke="#222" stroke-width="1" />
<line x1="30.2" y1="446.7" x2="241" y2="446.7" stroke="#222" stroke-width="1" />
<line x1="30.2" y1="459.7" x2="241" y2="459.7" stroke="#222" stroke-width="1" />
<line x1="30.2" y1="339" x2="30.2" y2="459.7" stroke="#222" stroke-width="1" />
<line x1="47.5" y1="339" x2="47.5" y2="459.7" stroke="#222" stroke-width="1" />
<line x1="171" y1="339" x2="171" y2="459.7" stroke="#222" stroke-width="1" />
<line x1="225.5" y1="339" x2="225.5" y2="459.7" stroke="#222" stroke-width="1" />
<line x1="241" y1="339" x2="241" y2="459.7" stroke="#222" stroke-width="1" />
<text x="38.85" y="349.8" font-family='"Liberation Serif", serif' font-size="12.7" text-anchor="middle" font-weight="normal" fill="#111" >1</text>
<text x="51.3" y="349.8" font-family='"Liberation Serif", serif' font-size="12.7" text-anchor="start" font-weight="normal" fill="#111" >Боковина левая</text>
<text x="177.4" y="349.8" font-family='"Liberation Serif", serif' font-size="12.7" text-anchor="start" font-weight="normal" fill="#111" >750x388</text>
<text x="233.5" y="349.8" font-family='"Liberation Serif", serif' font-size="12.7" text-anchor="middle" font-weight="normal" fill="#111" >1</text>
<text x="38.85" y="363.3" font-family='"Liberation Serif", serif' font-size="12.7" text-anchor="middle" font-weight="normal" fill="#111" >2</text>
<text x="51.3" y="363.3" font-family='"Liberation Serif", serif' font-size="12.7" text-anchor="start" font-weight="normal" fill="#111" >Боковина средняя</text>
<text x="177.4" y="363.3" font-family='"Liberation Serif", serif' font-size="12.7" text-anchor="start" font-weight="normal" fill="#111" >750x388</text>
<text x="233.5" y="363.3" font-family='"Liberation Serif", serif' font-size="12.7" text-anchor="middle" font-weight="normal" fill="#111" >1</text>
<text x="38.85" y="376.8" font-family='"Liberation Serif", serif' font-size="12.7" text-anchor="middle" font-weight="normal" fill="#111" >3</text>
<text x="51.3" y="376.8" font-family='"Liberation Serif", serif' font-size="12.7" text-anchor="start" font-weight="normal" fill="#111" >Боковина правая</text>
<text x="177.4" y="376.8" font-family='"Liberation Serif", serif' font-size="12.7" text-anchor="start" font-weight="normal" fill="#111" >750x388</text>
<text x="233.5" y="376.8" font-family='"Liberation Serif", serif' font-size="12.7" text-anchor="middle" font-weight="normal" fill="#111" >1</text>
<text x="38.85" y="390.1" font-family='"Liberation Serif", serif' font-size="12.7" text-anchor="middle" font-weight="normal" fill="#111" >4</text>
<text x="51.3" y="390.1" font-family='"Liberation Serif", serif' font-size="12.7" text-anchor="start" font-weight="normal" fill="#111" >Вязка стола</text>
<text x="177.4" y="390.1" font-family='"Liberation Serif", serif' font-size="12.7" text-anchor="start" font-weight="normal" fill="#111" >525x260</text>
<text x="233.5" y="390.1" font-family='"Liberation Serif", serif' font-size="12.7" text-anchor="middle" font-weight="normal" fill="#111" >1</text>
<text x="38.85" y="403.40000000000003" font-family='"Liberation Serif", serif' font-size="12.7" text-anchor="middle" font-weight="normal" fill="#111" >5</text>
<text x="51.3" y="403.40000000000003" font-family='"Liberation Serif", serif' font-size="12.7" text-anchor="start" font-weight="normal" fill="#111" >Столешница</text>
<text x="177.4" y="403.40000000000003" font-family='"Liberation Serif", serif' font-size="12.7" text-anchor="start" font-weight="normal" fill="#111" >900x500</text>
<text x="233.5" y="403.40000000000003" font-family='"Liberation Serif", serif' font-size="12.7" text-anchor="middle" font-weight="normal" fill="#111" >1</text>
<text x="38.85" y="416.90000000000003" font-family='"Liberation Serif", serif' font-size="12.7" text-anchor="middle" font-weight="normal" fill="#111" >6</text>
<text x="53.5" y="416.90000000000003" font-family='"Liberation Serif", serif' font-size="12.7" text-anchor="start" font-weight="normal" fill="#111" >Цоколь</text>
<text x="177.4" y="416.90000000000003" font-family='"Liberation Serif", serif' font-size="12.7" text-anchor="start" font-weight="normal" fill="#111" >323x74</text>
<text x="233.5" y="416.90000000000003" font-family='"Liberation Serif", serif' font-size="12.7" text-anchor="middle" font-weight="normal" fill="#111" >2</text>
<text x="38.85" y="430.40000000000003" font-family='"Liberation Serif", serif' font-size="12.7" text-anchor="middle" font-weight="normal" fill="#111" >7</text>
<text x="53.5" y="430.40000000000003" font-family='"Liberation Serif", serif' font-size="12.7" text-anchor="start" font-weight="normal" fill="#111" >Планка</text>
<text x="177.4" y="430.40000000000003" font-family='"Liberation Serif", serif' font-size="12.7" text-anchor="start" font-weight="normal" fill="#111" >323x60</text>
<text x="233.5" y="430.40000000000003" font-family='"Liberation Serif", serif' font-size="12.7" text-anchor="middle" font-weight="normal" fill="#111" >2</text>
<text x="38.85" y="443.90000000000003" font-family='"Liberation Serif", serif' font-size="12.7" text-anchor="middle" font-weight="normal" fill="#111" >8</text>
<text x="54.4" y="443.90000000000003" font-family='"Liberation Serif", serif' font-size="12.7" text-anchor="start" font-weight="normal" fill="#111" >Боковина ящика</text>
<text x="177.4" y="443.90000000000003" font-family='"Liberation Serif", serif' font-size="12.7" text-anchor="start" font-weight="normal" fill="#111" >350x110</text>
<text x="233.5" y="443.90000000000003" font-family='"Liberation Serif", serif' font-size="12.7" text-anchor="middle" font-weight="normal" fill="#111" >6</text>
<text x="38.85" y="457.5" font-family='"Liberation Serif", serif' font-size="12.7" text-anchor="middle" font-weight="normal" fill="#111" >9</text>
<text x="50.6" y="457.5" font-family='"Liberation Serif", serif' font-size="12.7" text-anchor="start" font-weight="normal" fill="#111" >Щит ящика передний</text>
<text x="177.4" y="457.5" font-family='"Liberation Serif", serif' font-size="12.7" text-anchor="start" font-weight="normal" fill="#111" >266x110</text>
<text x="233.5" y="457.5" font-family='"Liberation Serif", serif' font-size="12.7" text-anchor="middle" font-weight="normal" fill="#111" >3</text>
<line x1="29.3" y1="459.7" x2="235.1" y2="459.7" stroke="#222" stroke-width="1" />
<line x1="29.3" y1="473.2" x2="235.1" y2="473.2" stroke="#222" stroke-width="1" />
<line x1="29.3" y1="486.8" x2="235.1" y2="486.8" stroke="#222" stroke-width="1" />
<line x1="29.3" y1="500.2" x2="235.1" y2="500.2" stroke="#222" stroke-width="1" />
<line x1="29.3" y1="513.5" x2="235.1" y2="513.5" stroke="#222" stroke-width="1" />
<line x1="29.3" y1="526.8" x2="235.1" y2="526.8" stroke="#222" stroke-width="1" />
<line x1="29.3" y1="459.7" x2="29.3" y2="526.8" stroke="#222" stroke-width="1" />
<line x1="47.5" y1="459.7" x2="47.5" y2="526.8" stroke="#222" stroke-width="1" />
<line x1="171.5" y1="459.7" x2="171.5" y2="526.8" stroke="#222" stroke-width="1" />
<line x1="222.5" y1="459.7" x2="222.5" y2="526.8" stroke="#222" stroke-width="1" />
<line x1="235.1" y1="459.7" x2="235.1" y2="526.8" stroke="#222" stroke-width="1" />
<text x="38.4" y="470.5" font-family='"Liberation Serif", serif' font-size="12.7" text-anchor="middle" font-weight="normal" fill="#111" >10</text>
<text x="53.5" y="470.5" font-family='"Liberation Serif", serif' font-size="12.7" text-anchor="start" font-weight="normal" fill="#111" >Щит ящика задний</text>
<text x="174.6" y="470.5" font-family='"Liberation Serif", serif' font-size="12.7" text-anchor="start" font-weight="normal" fill="#111" >266x110</text>
<text x="229" y="470.5" font-family='"Liberation Serif", serif' font-size="12.7" text-anchor="middle" font-weight="normal" fill="#111" >3</text>
<text x="38.4" y="484.0" font-family='"Liberation Serif", serif' font-size="12.7" text-anchor="middle" font-weight="normal" fill="#111" >11</text>
<text x="62.2" y="484.0" font-family='"Liberation Serif", serif' font-size="12.7" text-anchor="start" font-weight="normal" fill="#111" >Фасад ящика</text>
<text x="174.6" y="484.0" font-family='"Liberation Serif", serif' font-size="12.7" text-anchor="start" font-weight="normal" fill="#111" >350x200</text>
<text x="229" y="484.0" font-family='"Liberation Serif", serif' font-size="12.7" text-anchor="middle" font-weight="normal" fill="#111" >3</text>
<text x="38.4" y="497.6" font-family='"Liberation Serif", serif' font-size="12.7" text-anchor="middle" font-weight="normal" fill="#111" >12</text>
<text x="57" y="497.6" font-family='"Liberation Serif", serif' font-size="12.7" text-anchor="start" font-weight="normal" fill="#111" >Полка выкатная</text>
<text x="174.6" y="497.6" font-family='"Liberation Serif", serif' font-size="12.7" text-anchor="start" font-weight="normal" fill="#111" >500x350</text>
<text x="229" y="497.6" font-family='"Liberation Serif", serif' font-size="12.7" text-anchor="middle" font-weight="normal" fill="#111" >1</text>
<text x="38.4" y="511.0" font-family='"Liberation Serif", serif' font-size="12.7" text-anchor="middle" font-weight="normal" fill="#111" >13</text>
<text x="62.2" y="511.0" font-family='"Liberation Serif", serif' font-size="12.7" text-anchor="start" font-weight="normal" fill="#111" >Дно ящика</text>
<text x="174.6" y="511.0" font-family='"Liberation Serif", serif' font-size="12.7" text-anchor="start" font-weight="normal" fill="#111" >346x295</text>
<text x="229" y="511.0" font-family='"Liberation Serif", serif' font-size="12.7" text-anchor="middle" font-weight="normal" fill="#111" >3</text>
<text x="38.4" y="524.3" font-family='"Liberation Serif", serif' font-size="12.7" text-anchor="middle" font-weight="normal" fill="#111" >14</text>
<text x="60.4" y="524.3" font-family='"Liberation Serif", serif' font-size="12.7" text-anchor="start" font-weight="normal" fill="#111" >Стенка задняя</text>
<text x="174.6" y="524.3" font-family='"Liberation Serif", serif' font-size="12.7" text-anchor="start" font-weight="normal" fill="#111" >675x350</text>
<text x="229" y="524.3" font-family='"Liberation Serif", serif' font-size="12.7" text-anchor="middle" font-weight="normal" fill="#111" >1</text>
<text x="140.5" y="580.2" font-family='"Liberation Serif", serif' font-size="22" text-anchor="start" font-weight="normal" fill="#000" >Комплект фурнитуры для сборки стола</text>
<line x1="6.0" y1="585.6" x2="698.2" y2="585.6" stroke="#111" stroke-width="1.2" />
<line x1="6.0" y1="644.5" x2="698.2" y2="644.5" stroke="#111" stroke-width="1.2" />
<line x1="6.0" y1="670.8" x2="698.2" y2="670.8" stroke="#111" stroke-width="1.2" />
<line x1="6.0" y1="690.4" x2="698.2" y2="690.4" stroke="#111" stroke-width="1.2" />
<line x1="6.0" y1="585.6" x2="6.0" y2="690.4" stroke="#111" stroke-width="1.2" />
<line x1="60.3" y1="585.6" x2="60.3" y2="690.4" stroke="#111" stroke-width="1.2" />
<line x1="112.3" y1="585.6" x2="112.3" y2="690.4" stroke="#111" stroke-width="1.2" />
<line x1="174.3" y1="585.6" x2="174.3" y2="690.4" stroke="#111" stroke-width="1.2" />
<line x1="231.3" y1="585.6" x2="231.3" y2="690.4" stroke="#111" stroke-width="1.2" />
<line x1="270.8" y1="585.6" x2="270.8" y2="690.4" stroke="#111" stroke-width="1.2" />
<line x1="310.8" y1="585.6" x2="310.8" y2="690.4" stroke="#111" stroke-width="1.2" />
<line x1="354.3" y1="585.6" x2="354.3" y2="690.4" stroke="#111" stroke-width="1.2" />
<line x1="409.4" y1="585.6" x2="409.4" y2="690.4" stroke="#111" stroke-width="1.2" />
<line x1="464.4" y1="585.6" x2="464.4" y2="690.4" stroke="#111" stroke-width="1.2" />
<line x1="536.4" y1="585.6" x2="536.4" y2="690.4" stroke="#111" stroke-width="1.2" />
<line x1="580.2" y1="585.6" x2="580.2" y2="690.4" stroke="#111" stroke-width="1.2" />
<line x1="698.2" y1="585.6" x2="698.2" y2="690.4" stroke="#111" stroke-width="1.2" />
<text x="33.15" y="662" font-family='"Liberation Serif", serif' font-size="11.7" text-anchor="middle" font-weight="normal" fill="#111" >Евровинт</text>
<text x="36" y="686.5" font-family='"Liberation Serif", serif' font-size="17.5" text-anchor="middle" font-weight="normal" fill="#111" >20</text>
<text x="86.3" y="662" font-family='"Liberation Serif", serif' font-size="11.7" text-anchor="middle" font-weight="normal" fill="#111" >Заглушка</text>
<text x="84" y="686.5" font-family='"Liberation Serif", serif' font-size="17.5" text-anchor="middle" font-weight="normal" fill="#111" >6</text>
<text x="143.3" y="662" font-family='"Liberation Serif", serif' font-size="11.7" text-anchor="middle" font-weight="normal" fill="#111" >Евроключ</text>
<text x="143.3" y="686.5" font-family='"Liberation Serif", serif' font-size="17.5" text-anchor="middle" font-weight="normal" fill="#111" >1</text>
<text x="199" y="662" font-family='"Liberation Serif", serif' font-size="11.7" text-anchor="middle" font-weight="normal" fill="#111" >Ножка</text>
<text x="198.8" y="686.5" font-family='"Liberation Serif", serif' font-size="17.5" text-anchor="middle" font-weight="normal" fill="#111" >6</text>
<text x="251.05" y="662" font-family='"Liberation Serif", serif' font-size="11.7" text-anchor="middle" font-weight="normal" fill="#111" >Гвоздь</text>
<text x="246" y="686.5" font-family='"Liberation Serif", serif' font-size="17.5" text-anchor="middle" font-weight="normal" fill="#111" >40</text>
<text x="290.8" y="653.8" font-family='"Liberation Serif", serif' font-size="11.7" text-anchor="middle" font-weight="normal" fill="#111" >Шуруп</text>
<text x="290.8" y="667.6" font-family='"Liberation Serif", serif' font-size="11.7" text-anchor="middle" font-weight="normal" fill="#111" >4x16</text>
<text x="289.8" y="686.5" font-family='"Liberation Serif", serif' font-size="17.5" text-anchor="middle" font-weight="normal" fill="#111" >32</text>
<text x="332.55" y="653.8" font-family='"Liberation Serif", serif' font-size="11.7" text-anchor="middle" font-weight="normal" fill="#111" >Шуруп</text>
<text x="332.55" y="667.6" font-family='"Liberation Serif", serif' font-size="11.7" text-anchor="middle" font-weight="normal" fill="#111" >4x30</text>
<text x="326.5" y="686.5" font-family='"Liberation Serif", serif' font-size="17.5" text-anchor="middle" font-weight="normal" fill="#111" >6</text>
<text x="381.85" y="653.8" font-family='"Liberation Serif", serif' font-size="11.7" text-anchor="middle" font-weight="normal" fill="#111" >Ввинчив.</text>
<text x="381.85" y="667.6" font-family='"Liberation Serif", serif' font-size="11.7" text-anchor="middle" font-weight="normal" fill="#111" >дюбель</text>
<text x="375.5" y="686.5" font-family='"Liberation Serif", serif' font-size="17.5" text-anchor="middle" font-weight="normal" fill="#111" >6</text>
<text x="436.9" y="653.8" font-family='"Liberation Serif", serif' font-size="11.7" text-anchor="middle" font-weight="normal" fill="#111" >Эксцентр.</text>
<text x="436.9" y="667.6" font-family='"Liberation Serif", serif' font-size="11.7" text-anchor="middle" font-weight="normal" fill="#111" >стяжка</text>
<text x="433.3" y="686.5" font-family='"Liberation Serif", serif' font-size="17.5" text-anchor="middle" font-weight="normal" fill="#111" >6</text>
<text x="500.4" y="653.8" font-family='"Liberation Serif", serif' font-size="11.7" text-anchor="middle" font-weight="normal" fill="#111" >Заглушка для</text>
<text x="500.4" y="667.6" font-family='"Liberation Serif", serif' font-size="11.7" text-anchor="middle" font-weight="normal" fill="#111" >эксцентрика</text>
<text x="501.1" y="686.5" font-family='"Liberation Serif", serif' font-size="17.5" text-anchor="middle" font-weight="normal" fill="#111" >6</text>
<text x="558.3" y="662" font-family='"Liberation Serif", serif' font-size="11.7" text-anchor="middle" font-weight="normal" fill="#111" >Шкант</text>
<text x="561.6" y="686.5" font-family='"Liberation Serif", serif' font-size="17.5" text-anchor="middle" font-weight="normal" fill="#111" >14</text>
<text x="582.8" y="654" font-family='"Liberation Serif", serif' font-size="12" text-anchor="start" font-weight="normal" fill="#111" textLength="108" lengthAdjust="spacingAndGlyphs">Комплект роликовых</text>
<text x="582.6" y="668" font-family='"Liberation Serif", serif' font-size="12" text-anchor="start" font-weight="normal" fill="#111" textLength="115" lengthAdjust="spacingAndGlyphs">направляющих L=350мм</text>
<text x="640" y="686.5" font-family='"Liberation Serif", serif' font-size="17.5" text-anchor="middle" font-weight="normal" fill="#111" >4</text>
<line x1="25" y1="616.2" x2="53.5" y2="600.6" stroke="#111" stroke-width="7.2" stroke-linecap="round"/>
<line x1="25" y1="616.2" x2="53.5" y2="600.6" stroke="#fff" stroke-width="4.4" stroke-linecap="round"/>
<line x1="24.3" y1="613.2" x2="27.0" y2="618.6" stroke="#111" stroke-width="1.4" />
<line x1="26.540000000000003" y1="611.976" x2="29.240000000000002" y2="617.376" stroke="#111" stroke-width="1.4" />
<line x1="28.78" y1="610.7520000000001" x2="31.48" y2="616.152" stroke="#111" stroke-width="1.4" />
<line x1="31.02" y1="609.528" x2="33.72" y2="614.928" stroke="#111" stroke-width="1.4" />
<line x1="33.26" y1="608.3040000000001" x2="35.96" y2="613.7040000000001" stroke="#111" stroke-width="1.4" />
<line x1="35.5" y1="607.08" x2="38.2" y2="612.48" stroke="#111" stroke-width="1.4" />
<line x1="37.739999999999995" y1="605.856" x2="40.44" y2="611.256" stroke="#111" stroke-width="1.4" />
<line x1="39.98" y1="604.6320000000001" x2="42.68" y2="610.032" stroke="#111" stroke-width="1.4" />
<line x1="42.22" y1="603.408" x2="44.92" y2="608.808" stroke="#111" stroke-width="1.4" />
<line x1="44.459999999999994" y1="602.1840000000001" x2="47.16" y2="607.5840000000001" stroke="#111" stroke-width="1.4" />
<line x1="46.7" y1="600.96" x2="49.400000000000006" y2="606.36" stroke="#111" stroke-width="1.4" />
<line x1="48.94" y1="599.736" x2="51.64" y2="605.136" stroke="#111" stroke-width="1.4" />
<line x1="51.17999999999999" y1="598.5120000000001" x2="53.879999999999995" y2="603.912" stroke="#111" stroke-width="1.4" />
<polygon points="13.2,618.6 24.5,614.3 25.5,618.6 16.5,627.3" fill="#fff" stroke="#111" stroke-width="1.0" />
<ellipse cx="13.7" cy="623.1" rx="3.6" ry="5.2" transform="rotate(-30 13.7 623.1)" fill="#fff" stroke="#111" stroke-width="1.2"/>
<circle cx="13.9" cy="623" r="1.9" fill="#fff" stroke="#111" stroke-width="0.8"/>
<circle cx="13.9" cy="623" r="0.8" fill="#444" stroke="#111" stroke-width="0.2"/>
<ellipse cx="84.8" cy="612.4" rx="5.4" ry="8.4" transform="rotate(-18 84.8 612.4)" fill="#fff" stroke="#111" stroke-width="1"/>
<polygon points="88.5,607 91.5,606.2 92.5,609.8 89.5,610.6" fill="#fff" stroke="#111" stroke-width="0.9" />
<polyline points="145.7,593 118,607.6 165.8,633.9" fill="none" stroke="#111" stroke-width="5" stroke-linejoin="bevel"/>
<polyline points="145.7,593 118,607.6 165.8,633.9" fill="none" stroke="#fff" stroke-width="2.8" stroke-linejoin="bevel"/>
<polyline points="145.7,593.6 118.6,607.9 165.5,633.6" fill="none" stroke="#555" stroke-width="0.5"/>
<ellipse cx="165.8" cy="633.9" rx="1.8" ry="2.4" transform="rotate(-30 165.8 633.9)" fill="#fff" stroke="#111" stroke-width="0.9"/>
<ellipse cx="145.7" cy="593" rx="1.6" ry="2.4" transform="rotate(25 145.7 593)" fill="#fff" stroke="#111" stroke-width="0.9"/>
<polygon points="178,606.7 194.7,596.9 226.4,615.3 226.4,619.6 209.7,629 178,611.9" fill="#fff" stroke="#111" stroke-width="1.1" />
<polyline points="178,606.9 209.7,624.9 226.4,615.3" fill="none" stroke="#111" stroke-width="1.1" />
<line x1="209.7" y1="624.9" x2="209.7" y2="629" stroke="#111" stroke-width="1.0" />
<path d="M198,600.3 Q207,594.5 221.7,613.1" fill="none" stroke="#111" stroke-width="2.6"/>
<path d="M198,600.3 Q207,594.5 221.7,613.1" fill="none" stroke="#fff" stroke-width="1.0"/>
<line x1="198" y1="600.3" x2="221.7" y2="613.1" stroke="#111" stroke-width="0.9" />
<circle cx="190.6" cy="604.6" r="1.1" fill="#111" stroke="#111" stroke-width="0.4"/>
<circle cx="213.5" cy="617.7" r="1.1" fill="#111" stroke="#111" stroke-width="0.4"/>
<circle cx="224" cy="620.5" r="1.0" fill="#111" stroke="#111" stroke-width="0.3"/>
<circle cx="209.5" cy="628.5" r="1.0" fill="#111" stroke="#111" stroke-width="0.3"/>
<line x1="247.6" y1="604.5" x2="248.1" y2="623.5" stroke="#111" stroke-width="1.5" />
<ellipse cx="247.5" cy="603.8" rx="1.8" ry="1" fill="#111"/>
<polygon points="285.9132682956146,620.4277902176652 299.369394469323,612.2429100447814 301,608.5 296.960605530677,607.9070899552187 282.9022821223071,615.0080151057116" fill="#151515" stroke="#111" stroke-width="0.8" /><line x1="288.2389259893945" y1="619.9868635905535" x2="285.554291865839" y2="612.6835709343169" stroke="#111" stroke-width="0.9" /><line x1="287.799904779609" y1="617.9611497960212" x2="286.6926388965217" y2="614.3207703839063" stroke="#888" stroke-width="0.35" /><line x1="290.72775970805037" y1="618.6041781913002" x2="288.0431255844949" y2="611.3008855350636" stroke="#111" stroke-width="0.9" /><line x1="290.2887384982649" y1="616.5784643967679" x2="289.1814726151776" y2="612.938084984653" stroke="#888" stroke-width="0.35" /><line x1="293.2165934267062" y1="617.2214927920469" x2="290.5319593031507" y2="609.9182001358103" stroke="#111" stroke-width="0.9" /><line x1="292.7775722169207" y1="615.1957789975146" x2="291.6703063338334" y2="611.5553995853996" stroke="#888" stroke-width="0.35" /><line x1="295.7054271453621" y1="615.8388073927937" x2="293.0207930218066" y2="608.535514736557" stroke="#111" stroke-width="0.9" /><line x1="295.2664059355766" y1="613.8130935982614" x2="294.1591400524893" y2="610.1727141861464" stroke="#888" stroke-width="0.35" /><line x1="297.83294252322105" y1="613.8057489801062" x2="295.8709450812594" y2="607.8032023507382" stroke="#111" stroke-width="0.9" /><line x1="297.75523965423247" y1="612.4304081990082" x2="296.6479737711452" y2="608.7900287868932" stroke="#888" stroke-width="0.35" /><ellipse cx="282.1" cy="619" rx="3.52" ry="4.40" transform="rotate(-25 282.1 619)" fill="#fff" stroke="#111" stroke-width="1.2"/><line x1="279.90000000000003" y1="619.66" x2="284.3" y2="618.34" stroke="#111" stroke-width="0.9" /><line x1="282.3" y1="616.36" x2="281.90000000000003" y2="621.64" stroke="#111" stroke-width="0.9" />
<polygon points="322.73234111049777,626.205226215477 347.2449178935974,611.4770982091278 351,607 345.2450821064026,608.0129017908722 320.2325463765042,621.8749806926575" fill="#151515" stroke="#111" stroke-width="0.8" /><line x1="324.9277598004613" y1="625.630640763689" x2="322.86727325578596" y2="619.6611855792345" stroke="#111" stroke-width="0.9" /><line x1="324.6474549483217" y1="623.9449868283076" x2="323.84041739157664" y2="620.946872357177" stroke="#888" stroke-width="0.35" /><line x1="327.34283258508395" y1="624.2364504810835" x2="325.28234604040864" y2="618.2669952966289" stroke="#111" stroke-width="0.9" /><line x1="327.0625277329444" y1="622.550796545702" x2="326.2554901761993" y2="619.5526820745714" stroke="#888" stroke-width="0.35" /><line x1="329.7579053697066" y1="622.842260198478" x2="327.69741882503126" y2="616.8728050140235" stroke="#111" stroke-width="0.9" /><line x1="329.477600517567" y1="621.1566062630966" x2="328.67056296082194" y2="618.158491791966" stroke="#888" stroke-width="0.35" /><line x1="332.17297815432926" y1="621.4480699158725" x2="330.11249160965394" y2="615.4786147314179" stroke="#111" stroke-width="0.9" /><line x1="331.8926733021897" y1="619.762415980491" x2="331.0856357454446" y2="616.7643015093604" stroke="#888" stroke-width="0.35" /><line x1="334.5880509389519" y1="620.053879633267" x2="332.52756439427657" y2="614.0844244488125" stroke="#111" stroke-width="0.9" /><line x1="334.3077460868123" y1="618.3682256978856" x2="333.50070853006724" y2="615.370111226755" stroke="#888" stroke-width="0.35" /><line x1="337.0031237235745" y1="618.6596893506614" x2="334.9426371788992" y2="612.6902341662069" stroke="#111" stroke-width="0.9" /><line x1="336.7228188714349" y1="616.97403541528" x2="335.91578131468987" y2="613.9759209441494" stroke="#888" stroke-width="0.35" /><line x1="339.4181965081972" y1="617.265499068056" x2="337.35770996352187" y2="611.2960438836014" stroke="#111" stroke-width="0.9" /><line x1="339.1378916560576" y1="615.5798451326746" x2="338.33085409931255" y2="612.5817306615439" stroke="#888" stroke-width="0.35" /><line x1="341.8332692928198" y1="615.8713087854505" x2="339.7727827481445" y2="609.901853600996" stroke="#111" stroke-width="0.9" /><line x1="341.5529644406802" y1="614.1856548500691" x2="340.74592688393517" y2="611.1875403789385" stroke="#888" stroke-width="0.35" /><line x1="343.94836670936326" y1="613.9574890401067" x2="342.4878309008464" y2="609.0272927811287" stroke="#111" stroke-width="0.9" /><line x1="343.9680372253029" y1="612.7914645674635" x2="343.16099966855785" y2="609.7933500963329" stroke="#888" stroke-width="0.35" /><line x1="346.3634394939859" y1="612.5632987575012" x2="344.902903685469" y2="607.6331024985233" stroke="#111" stroke-width="0.9" /><line x1="346.38311000992553" y1="611.3972742848581" x2="345.5760724531805" y2="608.3991598137275" stroke="#888" stroke-width="0.35" /><ellipse cx="319.3" cy="625.3" rx="3.36" ry="4.20" transform="rotate(-30 319.3 625.3)" fill="#fff" stroke="#111" stroke-width="1.2"/><line x1="317.2" y1="625.93" x2="321.40000000000003" y2="624.67" stroke="#111" stroke-width="0.9" /><line x1="319.5" y1="622.78" x2="319.1" y2="627.8199999999999" stroke="#111" stroke-width="0.9" />
<polygon points="397.3122536507259,608.6105846243802 408.8122536507259,601.9105846243801 405.1877463492741,595.6894153756198 393.6877463492741,602.3894153756198" fill="#1a1a1a" stroke="#111" stroke-width="0.9" />
<line x1="396.0" y1="601.06" x2="399.6" y2="607.26" stroke="#bbb" stroke-width="0.7" />
<line x1="398.3" y1="599.72" x2="401.90000000000003" y2="605.9200000000001" stroke="#bbb" stroke-width="0.7" />
<line x1="400.59999999999997" y1="598.38" x2="404.2" y2="604.58" stroke="#bbb" stroke-width="0.7" />
<line x1="402.9" y1="597.04" x2="406.5" y2="603.24" stroke="#bbb" stroke-width="0.7" />
<polygon points="373.7919440226231,623.872595072708 398.2919440226231,609.372595072708 393.7080559773769,601.627404927292 369.2080559773769,616.127404927292" fill="#fff" stroke="#111" stroke-width="1.1" />
<line x1="373" y1="622.5" x2="396.5" y2="608.5" stroke="#111" stroke-width="0.5" />
<ellipse cx="371.5" cy="620" rx="2.6" ry="4.5" transform="rotate(-30 371.5 620)" fill="#fff" stroke="#111" stroke-width="1"/>
<polygon points="365.79944490697915,625.3323711720972 370.99944490697914,622.3323711720972 369.00055509302086,618.8676288279029 363.8005550930209,621.8676288279029" fill="#fff" stroke="#111" stroke-width="1" />
<circle cx="361.2" cy="625.2" r="3.7" fill="#fff" stroke="#111" stroke-width="1.3"/>
<line x1="359" y1="625.6" x2="363.4" y2="624.8" stroke="#111" stroke-width="1.1" />
<line x1="361" y1="623" x2="361.4" y2="627.4" stroke="#111" stroke-width="1.1" />
<polygon points="426.2,606 443.4,606 443.6,620 441,624.5 436,626.5 430,625.5 426.5,622 426,613" fill="#fff" stroke="#111" stroke-width="1.2" />
<line x1="427" y1="611.5" x2="443" y2="611.5" stroke="#111" stroke-width="2.2" />
<line x1="428.5" y1="616" x2="441.5" y2="616" stroke="#111" stroke-width="1.0" />
<line x1="427" y1="620" x2="443" y2="620" stroke="#111" stroke-width="2.0" />
<line x1="431" y1="611" x2="431" y2="626" stroke="#111" stroke-width="1.3" />
<line x1="438.5" y1="611" x2="438.5" y2="626" stroke="#111" stroke-width="1.3" />
<polygon points="425,614 428,613 428.5,619 425.5,620" fill="#fff" stroke="#111" stroke-width="0.9" />
<ellipse cx="434.8" cy="606" rx="8.8" ry="5.4" fill="#fff" stroke="#111" stroke-width="1.3"/>
<line x1="430.8" y1="605.2" x2="438.8" y2="606.8" stroke="#111" stroke-width="1.7" />
<line x1="435.4" y1="602.6" x2="434.2" y2="609.4" stroke="#111" stroke-width="1.7" />
<ellipse cx="503.3" cy="610" rx="13.6" ry="8.2" fill="#fff" stroke="#111" stroke-width="1.4"/>
<ellipse cx="503.3" cy="609.2" rx="12.6" ry="7.2" fill="none" stroke="#111" stroke-width="0.6"/>
<line x1="554" y1="611.6" x2="571" y2="602.2" stroke="#111" stroke-width="7.2" stroke-linecap="round"/>
<line x1="554" y1="611.6" x2="571" y2="602.2" stroke="#fff" stroke-width="4.8" stroke-linecap="round"/>
<line x1="555.5" y1="609.6" x2="571.5" y2="600.8" stroke="#111" stroke-width="0.9" />
<line x1="556" y1="612.6" x2="572" y2="603.8" stroke="#111" stroke-width="0.7" />
<ellipse cx="553.6" cy="611.8" rx="2.3" ry="3.4" transform="rotate(-30 553.6 611.8)" fill="#fff" stroke="#111" stroke-width="1.1"/>
<polygon points="592.1,586.4 677.7,613.1 681,612.3 685.6,615.4 687.1,617 687.1,629.6 684,629 679.3,624.1 592.1,595.8" fill="#fff" stroke="#111" stroke-width="1.2" />
<line x1="592.1" y1="586.9" x2="677.7" y2="613.6" stroke="#111" stroke-width="1.7" />
<line x1="592.3" y1="589.2" x2="677.5" y2="615.8" stroke="#111" stroke-width="0.7" />
<line x1="592.1" y1="595.3" x2="679.3" y2="623.6" stroke="#111" stroke-width="2.0" />
<line x1="592.3" y1="593.2" x2="679" y2="621.5" stroke="#111" stroke-width="0.6" />
<rect x="598" y="590.8" width="2.2" height="1.5" fill="#111"/>
<rect x="605.5" y="593.2" width="2.2" height="1.5" fill="#111"/>
<rect x="612.8" y="595.5" width="2.2" height="1.5" fill="#111"/>
<rect x="620" y="597.6" width="2.2" height="1.5" fill="#111"/>
<rect x="648" y="606.3" width="2.2" height="1.5" fill="#111"/>
<polygon points="681,617 686,618.5 686,628 681,626.5" fill="#fff" stroke="#111" stroke-width="1" />
<circle cx="683.5" cy="622.5" r="1.6" fill="#fff" stroke="#111" stroke-width="0.9"/>
<line x1="670" y1="617.5" x2="670" y2="621.2" stroke="#111" stroke-width="1" />
<polygon points="592.1,604.4 687.1,634.3 687.1,637 683.2,642.1 681.6,643.7 588.9,613.1 588.9,611.5 592.1,610.5" fill="#fff" stroke="#111" stroke-width="1.1" />
<line x1="592.1" y1="604.4" x2="592.1" y2="610.5" stroke="#111" stroke-width="1" />
<line x1="592.1" y1="610.5" x2="685.5" y2="640" stroke="#111" stroke-width="1.6" />
<line x1="589.5" y1="612.3" x2="682.5" y2="642.8" stroke="#111" stroke-width="0.7" />
<line x1="595" y1="608.5" x2="686" y2="637" stroke="#111" stroke-width="0.6" />
</svg></body></html>
